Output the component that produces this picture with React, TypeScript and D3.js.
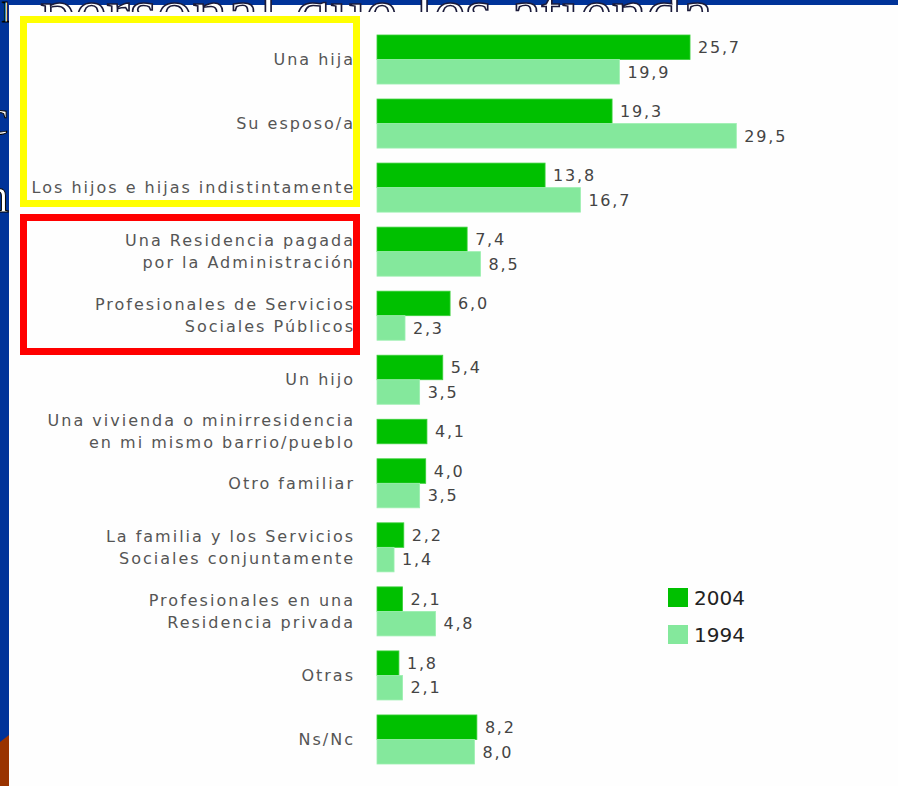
import React from "react";
import * as d3 from "d3";

const categories: string[][] = [
  ["Una hija"],
  ["Su esposo/a"],
  ["Los hijos e hijas indistintamente"],
  ["Una Residencia pagada", "por la Administración"],
  ["Profesionales de Servicios", "Sociales Públicos"],
  ["Un hijo"],
  ["Una vivienda o minirresidencia", "en mi mismo barrio/pueblo"],
  ["Otro familiar"],
  ["La familia y los Servicios", "Sociales conjuntamente"],
  ["Profesionales en una", "Residencia privada"],
  ["Otras"],
  ["Ns/Nc"],
];
const values2004: (number | null)[] = [25.7, 19.3, 13.8, 7.4, 6.0, 5.4, 4.1, 4.0, 2.2, 2.1, 1.8, 8.2];
const values1994: (number | null)[] = [19.9, 29.5, 16.7, 8.5, 2.3, 3.5, null, 3.5, 1.4, 4.8, 2.1, 8.0];
const seriesNames = ["2004", "1994"];
const titleText = "personal que les atienda";

const C2004 = "#00c000";
const C1994 = "#84e89c";
const W = 898;
const H = 786;

export default function App() {
  const x = d3.scaleLinear().domain([0, 30]).range([377, 377 + 12.18 * 30]);

  const gapU = 15 / 24.5;
  const groups: { top: number; bars: { v: number; s: number; u: number }[] }[] = [];
  let u = 0;
  categories.forEach((_, i) => {
    const bars: { v: number; s: number; u: number }[] = [];
    const start = u;
    [values2004[i], values1994[i]].forEach((v, s) => {
      if (v != null) {
        bars.push({ v, s, u });
        u += 1;
      }
    });
    groups.push({ top: start, bars });
    u += gapU;
  });
  const totalU = u - gapU;
  const y = d3.scaleLinear().domain([0, totalU]).range([35, 764]);
  const bh = y(1) - y(0);

  const fmt = (v: number) => d3.format(".1f")(v).replace(".", ",");

  return (
    <svg width={W} height={H} style={{ position: "absolute", left: 0, top: 0 }}>
      <defs>
        <clipPath id="topclip">
          <rect x={0} y={0} width={W} height={12} />
        </clipPath>
        <clipPath id="leftclip">
          <rect x={0} y={0} width={9} height={H} />
        </clipPath>
      </defs>
      <rect x={0} y={0} width={W} height={H} fill="#003399" />
      <path d={`M0,742 L9,735 L9,${H} L0,${H} Z`} fill="#993300" />
      <g clipPath="url(#leftclip)" fill="#fff" stroke="#000" strokeWidth={1} fontFamily="Liberation Serif">
        <text x={-14} y={134} fontSize={50}>c</text>
        <text x={-16} y={212} fontSize={50}>n</text>
        <text x={2} y={22} fontSize={30}>l</text>
      </g>
      <rect x={9} y={5} width={W - 9} height={H - 5} fill="#fefefe" />
      <g clipPath="url(#topclip)">
        <text
          x={40}
          y={32}
          fontSize={62}
          fontFamily="Liberation Serif"
          fill="#fff"
          stroke="#1a1a3a"
          strokeWidth={1.5}
          textLength={673}
          lengthAdjust="spacingAndGlyphs"
        >
          {titleText}
        </text>
      </g>

      <rect x={23.5} y={19.5} width={333} height={184} fill="none" stroke="#ffff00" strokeWidth={7} />
      <rect x={23.5} y={217.5} width={333} height={134} fill="none" stroke="#ff0000" strokeWidth={7} />

      {groups.map((g, i) => {
        const gTop = y(g.top);
        const gH = g.bars.length * bh;
        const lines = categories[i];
        const lh = 22;
        const cy = gTop + gH / 2;
        return (
          <g key={i}>
            {g.bars.map((b) => (
              <g key={b.s}>
                <rect
                  x={x(0)}
                  y={y(b.u)}
                  width={x(b.v) - x(0)}
                  height={bh}
                  fill={b.s === 0 ? C2004 : C1994}
                  stroke={b.s === 0 ? "#3ad03a" : "#9cefb0"}
                  strokeWidth={0.8}
                />
                <text
                  x={x(b.v) + 8}
                  y={y(b.u) + bh / 2}
                  dy="0.36em"
                  fontSize={16}
                  fontFamily="DejaVu Sans"
                  letterSpacing={1.8}
                  fill="#444"
                >
                  {fmt(b.v)}
                </text>
              </g>
            ))}
            {lines.map((l, k) => (
              <text
                key={k}
                x={355}
                y={cy + (k - (lines.length - 1) / 2) * lh}
                dy="0.36em"
                textAnchor="end"
                fontSize={16}
                fontFamily="DejaVu Sans"
                letterSpacing={2}
                fill="#555"
              >
                {l}
              </text>
            ))}
          </g>
        );
      })}

      {seriesNames.map((s, i) => (
        <g key={s} transform={`translate(668, ${588 + i * 37})`}>
          <rect x={0} y={0} width={20} height={19} fill={i === 0 ? C2004 : C1994} />
          <text x={26} y={10} dy="0.36em" fontSize={20} fontFamily="DejaVu Sans" fill="#222">
            {s}
          </text>
        </g>
      ))}
    </svg>
  );
}
